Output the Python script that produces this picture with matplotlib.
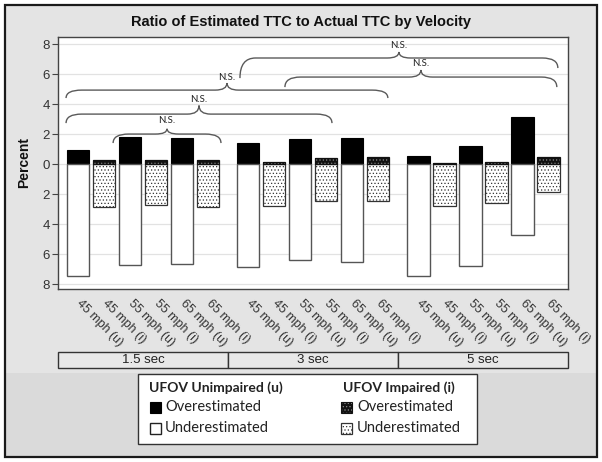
import matplotlib.pyplot as plt
import matplotlib.transforms as mtransforms
from matplotlib.patches import Rectangle, PathPatch
from matplotlib.path import Path

# ---- data ----
groups = ['1.5 sec', '3 sec', '5 sec']
conditions = ['45 mph (u)', '45 mph (i)', '55 mph (u)', '55 mph (i)', '65 mph (u)', '65 mph (i)']
overestimated = [0.95, 0.27, 1.78, 0.27, 1.71, 0.27,
                 1.38, 0.11, 1.67, 0.40, 1.71, 0.44,
                 0.56, 0.07, 1.18, 0.16, 3.11, 0.44]
underestimated = [7.47, 2.89, 6.76, 2.71, 6.69, 2.89,
                  6.89, 2.82, 6.40, 2.47, 6.51, 2.47,
                  7.47, 2.82, 6.82, 2.62, 4.76, 1.89]
y_ticks = [8, 6, 4, 2, 0, -2, -4, -6, -8]

# brace annotations: x0, x1, left end, right end, line, cusp, label y
braces = [
    (1.35, 5.50, 1.40, 1.40, 2.00, 2.35, 2.93),
    (-0.46, 9.77, 2.73, 2.73, 3.33, 3.90, 4.27),
    (-0.46, 11.92, 4.40, 4.40, 4.93, 5.40, 5.80),
    (6.23, 18.46, 5.73, 6.40, 7.07, 7.47, 7.93),
    (7.96, 18.42, 5.13, 5.13, 5.80, 6.27, 6.67),
]

W, H = 602, 462
GROUP_STEP = 6.55
BAR_W = 0.85

plt.rcParams['hatch.linewidth'] = 0.5
narrow = ['Liberation Sans Narrow', 'Liberation Sans', 'DejaVu Sans']

fig = plt.figure(figsize=(W / 100, H / 100), dpi=100)
fig.patch.set_facecolor('white')


def fx(px):
    return px / W


def fy(py):
    return 1 - py / H


# background panels and outer frame
fig.add_artist(Rectangle((fx(5), fy(457)), 592 / W, 452 / H, facecolor='#e4e4e4',
                         edgecolor='none', zorder=-10))
fig.add_artist(Rectangle((fx(5), fy(457)), 592 / W, 84 / H, facecolor='#dadada',
                         edgecolor='none', zorder=-9))
fig.add_artist(Rectangle((fx(5), fy(457)), 592 / W, 452 / H, fill=False,
                         edgecolor='#1a1a1a', lw=1.6, zorder=-8))

ax = fig.add_axes([fx(58), fy(289), (568 - 58) / W, (289 - 37) / H])
ax.set_facecolor('white')

x = [j + g * GROUP_STEP for g in range(len(groups)) for j in range(len(conditions))]
labels = conditions * len(groups)
unimp = [i for i in range(len(x)) if i % 2 == 0]
imp = [i for i in range(len(x)) if i % 2 == 1]

# unimpaired
ax.bar([x[i] for i in unimp], [overestimated[i] for i in unimp], BAR_W,
       color='black', edgecolor='black', lw=0.8, zorder=3)
ax.bar([x[i] for i in unimp], [-underestimated[i] for i in unimp], BAR_W,
       color='white', edgecolor='#555555', lw=1.0, zorder=3)
# impaired
ax.bar([x[i] for i in imp], [overestimated[i] for i in imp], BAR_W,
       color='#111111', hatch='.....', edgecolor='#8a8a8a', lw=0, zorder=3)
ax.bar([x[i] for i in imp], [overestimated[i] for i in imp], BAR_W,
       fill=False, edgecolor='#111111', lw=0.9, zorder=4)
ax.bar([x[i] for i in imp], [-underestimated[i] for i in imp], BAR_W,
       color='white', hatch='.....', edgecolor='#333333', lw=0.9, zorder=3)

ax.set_xlim(-0.77, 18.85)
ax.set_ylim(-8.33, 8.47)
ax.set_yticks(y_ticks)
ax.set_yticklabels([str(abs(v)) for v in y_ticks], family=narrow, fontsize=9.5,
                   color='#333333')
ax.tick_params(axis='y', length=4, width=0.8, color='#444444', pad=2)
ax.set_xticks(x)
ax.set_xticklabels(labels, rotation=-45, ha='left', va='center',
                   rotation_mode='anchor', family=narrow, fontsize=9,
                   color='#333333')
ax.tick_params(axis='x', length=0, pad=9)
ax.grid(axis='y', color='#e2e2e2', lw=0.9, zorder=0)
ax.set_axisbelow(True)
for sp in ax.spines.values():
    sp.set_color('#444444')
    sp.set_linewidth(1.0)
ax.set_ylabel('Percent', family=['Liberation Sans', 'DejaVu Sans'],
              fontsize=10, fontweight='bold', labelpad=8, color='#111111')


def brace(x0, x1, ye_l, ye_r, yl, yc, ylab, we=0.6, wc=0.45):
    xm = (x0 + x1) / 2
    verts = [(x0, ye_l), (x0, yl), (x0 + we, yl),
             (xm - wc, yl),
             (xm, yl), (xm, yc),
             (xm, yl), (xm + wc, yl),
             (x1 - we, yl),
             (x1, yl), (x1, ye_r)]
    codes = [Path.MOVETO, Path.CURVE3, Path.CURVE3,
             Path.LINETO,
             Path.CURVE3, Path.CURVE3,
             Path.CURVE3, Path.CURVE3,
             Path.LINETO,
             Path.CURVE3, Path.CURVE3]
    ax.add_patch(PathPatch(Path(verts, codes), fill=False, edgecolor='#5a5a5a',
                           lw=1.0, zorder=5, clip_on=False))
    ax.text(xm, ylab, 'N.S.', ha='center', va='center', fontsize=7,
            family=['Lato', 'DejaVu Sans'], color='#222222', zorder=6)


for b in braces:
    brace(*b)

# category strip under the tick labels
trans = mtransforms.blended_transform_factory(ax.transData, ax.transAxes)
edges = [-0.77]
for g in range(1, len(groups)):
    edges.append((x[g * 6 - 1] + x[g * 6]) / 2)
edges.append(18.85)
y0, hgt = (289 - 368) / 252, (368 - 352) / 252
for g, name in enumerate(groups):
    ax.add_patch(Rectangle((edges[g], y0), edges[g + 1] - edges[g], hgt,
                           transform=trans, clip_on=False, facecolor='#e8e8e8',
                           edgecolor='#333333', lw=1.0))
    ax.text((edges[g] + edges[g + 1]) / 2, y0 + hgt / 2, name, transform=trans,
            ha='center', va='center', family=narrow, fontsize=9.5, color='#222222')

fig.text(fx(301), fy(22), 'Ratio of Estimated TTC to Actual TTC by Velocity',
         ha='center', va='center', fontsize=10.5, fontweight='bold',
         family=narrow, color='#111111')

# legend
fig.add_artist(Rectangle((fx(138), fy(444)), (477 - 138) / W, (444 - 374) / H,
                         facecolor='white', edgecolor='#333333', lw=1.0))
lfont = ['Lato', 'DejaVu Sans']
fig.text(fx(149), fy(388), 'UFOV Unimpaired (u)', ha='left', va='center',
         fontsize=10, fontweight='bold', family=lfont, color='#222222')
fig.text(fx(343), fy(388), 'UFOV Impaired (i)', ha='left', va='center',
         fontsize=10, fontweight='bold', family=lfont, color='#222222')
sq = 11
swatches = [
    (150, 407, dict(facecolor='black', edgecolor='black', lw=0.8)),
    (150, 428, dict(facecolor='white', edgecolor='#222222', lw=1.0)),
    (341, 407, dict(facecolor='#111111', edgecolor='#8a8a8a', hatch='.....', lw=0)),
    (341, 428, dict(facecolor='white', edgecolor='#333333', hatch='.....', lw=0.9)),
]
for px, py, kw in swatches:
    fig.add_artist(Rectangle((fx(px), fy(py + sq / 2)), sq / W, sq / H, **kw))
fig.add_artist(Rectangle((fx(341), fy(407 + sq / 2)), sq / W, sq / H, fill=False,
                         edgecolor='#111111', lw=0.8))
for px, py, txt in [(165, 407, 'Overestimated'), (165, 428, 'Underestimated'),
                    (357, 407, 'Overestimated'), (357, 428, 'Underestimated')]:
    fig.text(fx(px), fy(py), txt, ha='left', va='center', fontsize=10.5,
             family=lfont, color='#222222')

fig.savefig('out.png', dpi=100)
